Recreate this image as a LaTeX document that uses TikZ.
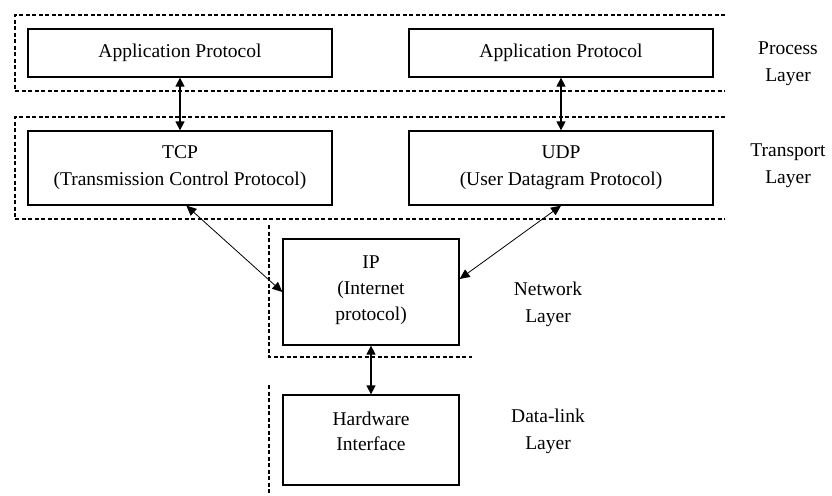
\documentclass[tikz,border=0pt]{standalone}
\usepackage{fontspec}
\setmainfont{Liberation Serif}
\usetikzlibrary{arrows.meta}
\begin{document}
\begin{tikzpicture}[x=1pt,y=-1pt,
  txt/.style={font=\fontsize{19.5}{27}\selectfont, align=center, inner sep=0pt},
  protobox/.style={txt, draw=black, line width=1.3pt, minimum width=304pt},
  layerline/.style={line width=1.1pt, dash pattern=on 4pt off 2.5pt},
  link/.style={line width=1.3pt, {Triangle[length=9pt,width=9pt]}-{Triangle[length=9pt,width=9pt]}},
  thinlink/.style={line width=0.8pt, {Triangle[length=10pt,width=9pt]}-{Triangle[length=10pt,width=9pt]}}
]
\useasboundingbox (0,0) rectangle (832,495);

% layer frames (open on the right)
\draw[layerline] (725,15) -- (15,15) -- (15,91) -- (725,91);
\draw[layerline] (725,117) -- (15,117) -- (15,219) -- (725,219);
\draw[layerline] (269,225) -- (269,357) -- (472,357);
\draw[layerline] (269,385) -- (269,495);

% protocol boxes
\node[protobox, minimum height=48pt] (app1) at (180,53) {Application Protocol};
\node[protobox, minimum height=48pt] (app2) at (561,53) {Application Protocol};
\node[protobox, minimum height=74pt] (tcp) at (180,168) {TCP\\(Transmission Control Protocol)};
\node[protobox, minimum height=74pt] (udp) at (561,168) {UDP\\(User Datagram Protocol)};
\node[protobox, minimum width=176pt, minimum height=106pt] (ip) at (371,292)
  {IP\\[-1pt](Internet\\[-1pt]protocol)\\[-20pt]};
\node[protobox, minimum width=176pt, minimum height=90pt] (hw) at (371,440)
  {Hardware\\[-2pt]Interface\\[-9pt]};

% layer names
\node[txt] (lproc) at (788,64) {Process\\Layer};
\node[txt] (ltrans) at (788,166) {Transport\\Layer};
\node[txt] (lnet) at (548,304) {Network\\Layer};
\node[txt] (llink) at (548,431) {Data-link\\Layer};

% connectors
\draw[link] (app1.south) -- (tcp.north);
\draw[link] (app2.south) -- (udp.north);
\draw[link] (ip.south) -- (hw.north);
\draw[thinlink] ([xshift=159pt]tcp.south west) -- (ip.west);
\draw[thinlink] (udp.south) -- ([yshift=13pt]ip.east);
\end{tikzpicture}
\end{document}
